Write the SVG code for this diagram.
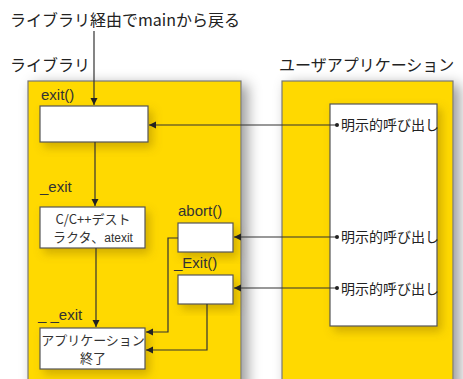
<svg xmlns="http://www.w3.org/2000/svg" width="463" height="379" viewBox="0 0 463 379">
<defs>
<style>
.t{font-family:"Noto Sans CJK JP","Liberation Sans",sans-serif;fill:#222}
.h{font-size:16px}
.lbl{font-family:"Liberation Sans","Noto Sans CJK JP",sans-serif;font-size:15px;fill:#333}
.bt{font-size:13px;text-anchor:middle;fill:#333}
.call{font-size:14px;fill:#222}
.panel{fill:#FFD900;stroke:#777;stroke-width:1.2}
.box{fill:#fff;stroke:#555;stroke-width:1.2}
.c{fill:none;stroke:#333;stroke-width:1.2}
</style>
<filter id="sh" x="-20%" y="-20%" width="150%" height="150%">
<feDropShadow dx="6" dy="4" stdDeviation="7" flood-color="#000" flood-opacity="0.4"/>
</filter>
<filter id="bs" x="-30%" y="-30%" width="170%" height="170%">
<feDropShadow dx="4" dy="5" stdDeviation="5" flood-color="#7a5a00" flood-opacity="0.35"/>
</filter>
<marker id="ah" markerWidth="8" markerHeight="8" refX="7" refY="4" orient="auto" markerUnits="userSpaceOnUse">
<path d="M0,0.5 L7,4 L0,7.5 Z" fill="#222"/>
</marker>
<marker id="dot" markerWidth="6" markerHeight="6" refX="3" refY="3" markerUnits="userSpaceOnUse">
<circle cx="3" cy="3" r="2" fill="#222"/>
</marker>
</defs>
<rect width="463" height="379" fill="#fff"/>
<text class="t h" x="10" y="26">ライブラリ経由でmainから戻る</text>
<g id="library">
<text class="t h" x="10" y="71">ライブラリ</text>
<rect class="panel" x="28" y="81" width="213" height="310" filter="url(#sh)"/>
</g>
<g id="userapp">
<text class="t h" x="279" y="71">ユーザアプリケーション</text>
<rect class="panel" x="282" y="81" width="171" height="310" filter="url(#sh)"/>
<rect class="box" x="330" y="104" width="107" height="222" filter="url(#bs)"/>
<text class="t call" x="341" y="130">明示的呼び出し</text>
<text class="t call" x="341" y="242">明示的呼び出し</text>
<text class="t call" x="341" y="294">明示的呼び出し</text>
</g>
<g id="exit">
<text class="lbl" x="41" y="100">exit()</text>
<rect class="box" x="40" y="106" width="108" height="36" filter="url(#bs)"/>
</g>
<g id="destructors">
<text class="lbl" x="40" y="192">_exit</text>
<rect class="box" x="40" y="207" width="105" height="41" filter="url(#bs)"/>
<text class="t bt" x="93" y="224">C/C++デスト</text>
<text class="t bt" x="93" y="242">ラクタ、<tspan font-family="Liberation Sans" font-size="12">atexit</tspan></text>
</g>
<g id="abort">
<text class="lbl" x="178" y="216">abort()</text>
<rect class="box" x="178" y="223" width="55" height="29" filter="url(#bs)"/>
</g>
<g id="Exit">
<text class="lbl" x="174" y="268">_Exit()</text>
<rect class="box" x="178" y="275" width="55" height="29" filter="url(#bs)"/>
</g>
<g id="append">
<text class="lbl" x="38" y="320">_ _exit</text>
<rect class="box" x="40" y="328" width="105" height="41" filter="url(#bs)"/>
<text class="t bt" x="93" y="345">アプリケーション</text>
<text class="t bt" x="93" y="363">終了</text>
</g>
<g id="connectors">
<path class="c" d="M94,31 V105" marker-end="url(#ah)"/>
<path class="c" d="M95,142 V206" marker-end="url(#ah)"/>
<path class="c" d="M96,248 V327" marker-end="url(#ah)"/>
<path class="c" d="M337,125 H149" marker-start="url(#dot)" marker-end="url(#ah)"/>
<path class="c" d="M337,237 H234" marker-start="url(#dot)" marker-end="url(#ah)"/>
<path class="c" d="M337,288 H234" marker-start="url(#dot)" marker-end="url(#ah)"/>
<path class="c" d="M178,238 H168 V332 H146" marker-end="url(#ah)"/>
<path class="c" d="M207,304 V350 H146" marker-end="url(#ah)"/>
</g>
</svg>
